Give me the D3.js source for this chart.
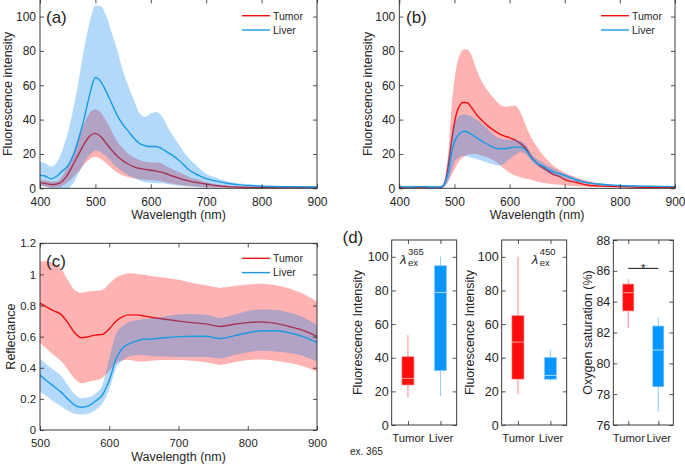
<!DOCTYPE html>
<html><head><meta charset="utf-8">
<script src="https://cdn.jsdelivr.net/npm/d3@7/dist/d3.min.js"></script>
<style>
body{margin:0;background:#fff}
svg{display:block}
text{font-family:Arial,"Liberation Sans",Helvetica,sans-serif;fill:#262626}
</style>
</head><body>
<svg id="chart" width="685" height="467"></svg>
<script>
// ---------------- DATA ----------------
// Panel (a): excitation 365 nm
const wlA = [400,410,420,430,440,450,460,470,480,490,500,510,520,530,540,550,560,570,580,590,600,610,620,630,640,650,660,670,680,690,700,720,740,760,780,800,850,900];
const tumorMeanA = [3.3,2.8,2.2,2.5,4,8,14,20,26,30.5,32,30,26,22,18.5,16,14,12.5,11.5,11,10.5,10,9.3,8.2,7,6,5,4.2,3.5,3,2.5,1.5,1,0.7,0.5,0.4,0.3,0.3];
const tumorUpA   = [5,4.5,4,4,7,13,21,30,38,44,46,44,39,33,27,23,20,18,16.5,15.5,15,15,14.5,12.5,11,9.5,8,6.5,5.5,4.5,3.5,2.2,1.5,1,0.8,0.6,0.4,0.4];
const tumorLoA   = [1.5,1,0.5,0.5,1.5,3.5,6.5,10,14,17,18.3,17,14.5,11.5,9,7.5,6.5,5.8,5.3,5,4.8,4.5,4,3.3,2.7,2.2,1.7,1.3,1,0.8,0.6,0.4,0.3,0.2,0.2,0.2,0.2,0.2];
const liverMeanA = [7.5,7,5.5,7,10,13,19,29,41,55,64.5,62,56,49,42,37,33,29,26,24.8,24.3,24.3,23,21,19,16.5,13.5,10.5,8.5,7,5.6,4,2.8,2,1.6,1.2,0.9,0.8];
const liverUpA   = [15.5,14.5,12.6,15,22,32,46,63,82,97,106.5,106,100,90,80,68,59,51,43.5,41.5,43.5,44.5,42,36,30.5,26,21,17,14,11,8.5,6,3.8,2.8,2.2,1.8,1.4,1.3];
const liverLoA   = [1.5,1,0,0,0,0,3,9,15,19.5,22,21,18.5,15,12,9.5,7.5,6,4.5,3.5,3.3,3,3,2.5,2,1.5,1.2,1,0.8,0.6,0.5,0.4,0.3,0.3,0.3,0.3,0.3,0.3];

// Panel (b): excitation 450 nm
const wlB = [400,420,440,460,470,475,480,485,490,495,500,505,510,515,520,525,530,540,550,560,570,580,590,600,610,620,630,640,650,660,670,680,690,700,720,740,760,780,800,850,900];
const tumorMeanB = [0.3,0.3,0.3,0.3,0.4,0.5,1.5,6,16,28,38,45,48.5,50,50,49.5,47.5,43,39.5,36.5,34,32,30.5,29.5,28,26,23,18,14.5,12,10,8,7,5,3.5,1.9,1.4,1.2,1,0.5,0.3];
const tumorUpB   = [0.5,0.5,0.5,0.5,0.6,0.8,2.5,10,25,48,63,73,78,80.5,81,80.5,78,69,62,57,53,49.5,47.5,47.8,48,44,36,29,24,19.5,16,13,11,9,6.5,4.5,3,2.2,1.6,0.8,0.5];
const tumorLoB   = [0.1,0.1,0.1,0.1,0.1,0.1,0.5,2,5,8,11,14,16.5,18,19,19.5,20,20,19,18,16.5,14.5,11.5,9,7.5,6.5,5.5,4.8,4,3.3,2.8,2.3,2,1.7,1.2,0.9,0.7,0.6,0.5,0.3,0.2];
const liverMeanB = [1,0.8,1,0.8,0.8,0.9,1.5,5,11,21,27,30,32,33,33.2,32.5,31.5,29.5,27.5,25.5,24,23,23,23.5,24,24,22,17.5,14.5,13,11,9.5,8.5,7.5,5,3.3,2.5,2,1.6,1.2,1];
const liverUpB   = [1.5,1.5,1.5,1.5,1.5,1.5,3,9,20,30,37,41,42.5,43,43,42.5,42,40,37.5,34.5,31.5,29.5,28.5,28.3,28,27.5,25,20,17,15,13,11.5,10,8.5,6,4,3,2.5,2,1.5,1.3];
const liverLoB   = [0.3,0.3,0.3,0.3,0.3,0.3,0.5,2,5,10,15,17,18.3,18.8,18.8,18.4,18,17,16,15,14,13.3,14.5,17,19.5,21,19.5,16,13,11,9,7.5,6.5,5.5,4,2.7,1.8,1.3,1,0.8,0.7];

// Panel (c): reflectance
const wlC = [500,510,520,530,540,550,560,570,580,590,600,610,620,630,640,650,660,680,700,720,740,760,780,800,820,840,860,880,900];
const tumorMeanC = [0.815,0.79,0.765,0.745,0.69,0.625,0.593,0.6,0.61,0.615,0.65,0.7,0.73,0.74,0.74,0.733,0.725,0.712,0.70,0.69,0.682,0.665,0.68,0.69,0.695,0.685,0.665,0.64,0.60];
const tumorUpC   = [1.085,1.083,1.07,1.04,0.965,0.9,0.882,0.89,0.895,0.9,0.94,0.98,1.0,1.007,1.003,0.998,0.99,0.978,0.965,0.945,0.93,0.915,0.925,0.935,0.94,0.93,0.91,0.875,0.825];
const tumorLoC   = [0.557,0.52,0.48,0.445,0.39,0.33,0.30,0.31,0.32,0.335,0.38,0.43,0.448,0.45,0.442,0.44,0.445,0.45,0.45,0.445,0.435,0.418,0.435,0.45,0.453,0.445,0.43,0.41,0.375];
const liverMeanC = [0.353,0.315,0.28,0.245,0.2,0.16,0.146,0.155,0.185,0.225,0.32,0.46,0.53,0.557,0.573,0.583,0.585,0.593,0.60,0.603,0.603,0.588,0.605,0.625,0.638,0.638,0.625,0.6,0.561];
const liverUpC   = [0.46,0.42,0.385,0.35,0.29,0.23,0.204,0.21,0.235,0.29,0.46,0.62,0.67,0.695,0.705,0.712,0.718,0.73,0.742,0.745,0.74,0.72,0.74,0.765,0.775,0.772,0.755,0.725,0.675];
const liverLoC   = [0.246,0.215,0.18,0.155,0.125,0.105,0.10,0.105,0.13,0.17,0.26,0.40,0.45,0.475,0.482,0.48,0.476,0.472,0.47,0.47,0.47,0.46,0.48,0.5,0.51,0.505,0.495,0.475,0.44];

// Tick labels
const xTicksAB = [400,500,600,700,800,900];
const yTicksAB = [0,20,40,60,80,100];
const xTicksC = [500,600,700,800,900];
const yTicksC = [0,0.2,0.4,0.6,0.8,1,1.2];
const yTickLabelsC = ["0","0.2","0.4","0.6","0.8","1","1.2"];
const yTicksFl = [0,20,40,60,80,100];
const yTicksSO2 = [76,78,80,82,84,86,88];

// Panel (d): box plots [Tumor, Liver]
const boxCats = ["Tumor","Liver"];
const fl365Min = [16.4,17.2], fl365Q1 = [23.8,32.3], fl365Med = [27.7,78.8], fl365Q3 = [40.6,94.7], fl365Max = [53.5,100];
const fl450Min = [18.4,26.0], fl450Q1 = [27.3,27.2], fl450Med = [49.3,29.5], fl450Q3 = [65.0,40.2], fl450Max = [100,44.6];
const so2Min = [82.27,76.87], so2Q1 = [83.4,78.48], so2Med = [84.58,80.86], so2Q3 = [85.14,82.42], so2Max = [85.45,82.96];
const so2Sig = 86.16;

// ---------------- STYLE ----------------
const RED = "#ee1111", BLUE = "#1a9ae6";
const RED_FILL = "#ff0000", BLUE_FILL = "rgb(0,130,240)";
const FILL_OP = 0.3;
const AX = "#262626";
const TICK_FS = 12, LABEL_FS = 12.5, LEG_FS = 10.5, PANEL_FS = 17;

const svg = d3.select("#chart");
let clipN = 0;

function frameAndAxes(g, x, y, p, xt, yt, ytFmt, xtFmt) {
  const tl = 4;
  const bottom = g.append("g").attr("transform", `translate(0,${p.bottom})`)
    .call(d3.axisBottom(x).tickValues(xt).tickSizeInner(-tl).tickSizeOuter(0).tickPadding(p.xPad || 7).tickFormat(xtFmt || (d => d)));
  const top = g.append("g").attr("transform", `translate(0,${p.top})`)
    .call(d3.axisTop(x).tickValues(xt).tickSizeInner(-tl).tickSizeOuter(0).tickFormat(""));
  const left = g.append("g").attr("transform", `translate(${p.left},0)`)
    .call(d3.axisLeft(y).tickValues(yt).tickSizeInner(-tl).tickSizeOuter(0).tickPadding(p.yPad || 4).tickFormat(ytFmt || (d => d)));
  const right = g.append("g").attr("transform", `translate(${p.right},0)`)
    .call(d3.axisRight(y).tickValues(yt).tickSizeInner(-tl).tickSizeOuter(0).tickFormat(""));
  [bottom, top, left, right].forEach(a => {
    a.select(".domain").remove();
    a.attr("color", AX).attr("font-size", p.tickFs || TICK_FS).attr("font-family", 'Arial,"Liberation Sans",sans-serif');
    a.selectAll("line").attr("stroke-width", 0.8);
  });
  if (p.catFs) bottom.attr("font-size", p.catFs);
  g.append("rect").attr("x", p.left).attr("y", p.top)
    .attr("width", p.right - p.left).attr("height", p.bottom - p.top)
    .attr("fill", "none").attr("stroke", AX).attr("stroke-width", 0.9);
}

function linePanel(p) {
  const g = svg.append("g");
  const x = d3.scaleLinear().domain(p.xDomain).range([p.left, p.right]);
  const y = d3.scaleLinear().domain(p.yDomain).range([p.bottom, p.top]);
  const cid = "clip" + (clipN++);
  g.append("clipPath").attr("id", cid).append("rect")
    .attr("x", p.left).attr("y", p.top).attr("width", p.right - p.left).attr("height", p.bottom - p.top);
  const plot = g.append("g").attr("clip-path", `url(#${cid})`);
  const band = (lo, hi) => d3.area().x((d, i) => x(p.wl[i])).y0((d, i) => y(lo[i])).y1((d, i) => y(hi[i])).curve(d3.curveMonotoneX)(p.wl);
  const line = (v) => d3.line().x((d, i) => x(p.wl[i])).y((d, i) => y(v[i])).curve(d3.curveMonotoneX)(p.wl);
  plot.append("path").attr("d", band(p.tLo, p.tUp)).attr("fill", RED_FILL).attr("fill-opacity", FILL_OP);
  plot.append("path").attr("d", line(p.tMean)).attr("fill", "none").attr("stroke", RED).attr("stroke-width", 1.4);
  plot.append("path").attr("d", band(p.lLo, p.lUp)).attr("fill", BLUE_FILL).attr("fill-opacity", FILL_OP);
  plot.append("path").attr("d", line(p.lMean)).attr("fill", "none").attr("stroke", BLUE).attr("stroke-width", 1.4);

  frameAndAxes(g, x, y, p, p.xTicks, p.yTicks, p.yFmt);

  // axis titles
  g.append("text").attr("x", (p.left + p.right) / 2).attr("y", p.bottom + 31)
    .attr("text-anchor", "middle").attr("font-size", LABEL_FS).text("Wavelength (nm)");
  g.append("text").attr("transform", `translate(${p.yTitleX},${(p.top + p.bottom) / 2}) rotate(-90)`)
    .attr("dy", "0.35em").attr("text-anchor", "middle").attr("font-size", LABEL_FS).text(p.yTitle);
  // panel label
  g.append("text").attr("x", p.labX).attr("y", p.labY).attr("font-size", PANEL_FS).text(p.label);
  // legend
  const lg = g.append("g");
  [["Tumor", RED], ["Liver", BLUE]].forEach((e, i) => {
    const yy = p.legY + i * 14.3;
    lg.append("line").attr("x1", p.legX).attr("x2", p.legX + 28).attr("y1", yy).attr("y2", yy)
      .attr("stroke", e[1]).attr("stroke-width", 1.4);
    lg.append("text").attr("x", p.legX + 31).attr("y", yy + 3.8).attr("font-size", LEG_FS).text(e[0]);
  });
}

linePanel({left: 40, right: 317, top: -0.6, bottom: 188.3, xDomain: [400, 900], yDomain: [0, 110],
  wl: wlA, tMean: tumorMeanA, tUp: tumorUpA, tLo: tumorLoA, lMean: liverMeanA, lUp: liverUpA, lLo: liverLoA,
  xTicks: xTicksAB, yTicks: yTicksAB, xPad: 9, yPad: 4, yTitle: "Fluorescence intensity", yTitleX: 7.5,
  label: "(a)", labX: 46, labY: 23, legX: 242, legY: 15.7});

linePanel({left: 399.3, right: 675, top: -0.6, bottom: 188.3, xDomain: [400, 900], yDomain: [0, 110],
  wl: wlB, tMean: tumorMeanB, tUp: tumorUpB, tLo: tumorLoB, lMean: liverMeanB, lUp: liverUpB, lLo: liverLoB,
  xTicks: xTicksAB, yTicks: yTicksAB, xPad: 9, yPad: 4, yTitle: "Fluorescence intensity", yTitleX: 367.5,
  label: "(b)", labX: 406, labY: 23, legX: 601, legY: 15.7});

linePanel({left: 40, right: 317, top: 243.3, bottom: 430, xDomain: [500, 900], yDomain: [0, 1.2],
  wl: wlC, tMean: tumorMeanC, tUp: tumorUpC, tLo: tumorLoC, lMean: liverMeanC, lUp: liverUpC, lLo: liverLoC,
  xTicks: xTicksC, yTicks: yTicksC, yFmt: (d, i) => yTickLabelsC[i], xPad: 9, yPad: 4,
  yTitle: "Reflectance", yTitleX: 10.5, tickFs: 11.3,
  label: "(c)", labX: 46, labY: 267, legX: 242, legY: 258.3});

// ---------------- BOX PANELS ----------------
const TUMOR_BOX = "#ff0d0d", LIVER_BOX = "#0a96ff";
const TUMOR_WH = "#ff8c8c", LIVER_WH = "#8cccff";
const TUMOR_MED = "#ff9c9c", LIVER_MED = "#a6dcff";

function boxPanel(p) {
  const g = svg.append("g");
  const x = d3.scaleLinear().domain([0.5, 2.5]).range([p.left, p.right]);
  const y = d3.scaleLinear().domain(p.yDomain).range([p.bottom, p.top]);
  const bw = 0.37;
  const cols = [[TUMOR_BOX, TUMOR_WH, TUMOR_MED], [LIVER_BOX, LIVER_WH, LIVER_MED]];
  boxCats.forEach((c, i) => {
    const cx = x(i + 1);
    g.append("line").attr("x1", cx).attr("x2", cx).attr("y1", y(p.min[i])).attr("y2", y(p.max[i]))
      .attr("stroke", cols[i][1]).attr("stroke-width", 1);
    g.append("rect").attr("x", x(i + 1 - bw / 2)).attr("width", x(i + 1 + bw / 2) - x(i + 1 - bw / 2))
      .attr("y", y(p.q3[i])).attr("height", y(p.q1[i]) - y(p.q3[i]))
      .attr("fill", cols[i][0]).attr("stroke", cols[i][1]).attr("stroke-width", 0.6);
    g.append("line").attr("x1", x(i + 1 - bw / 2)).attr("x2", x(i + 1 + bw / 2))
      .attr("y1", y(p.med[i])).attr("y2", y(p.med[i])).attr("stroke", cols[i][2]).attr("stroke-width", 1);
  });
  frameAndAxes(g, x, y, Object.assign({xPad: 8.5, yPad: 3, tickFs: 12.5, catFs: 11.3}, p), [1, 2], p.yTicks, null, (d, i) => boxCats[i]);
  g.append("text").attr("transform", `translate(${p.yTitleX},${(p.top + p.bottom) / 2}) rotate(-90)`)
    .attr("dy", "0.35em").attr("text-anchor", "middle").attr("font-size", LABEL_FS).text(p.yTitle);
  if (p.ex) {
    const lx = p.left + p.exDx, ly = y(p.exY);
    g.append("text").attr("x", lx).attr("y", ly).attr("font-size", 13).attr("font-style", "italic").text("λ");
    g.append("text").attr("x", lx + 8).attr("y", ly - 9).attr("font-size", 9.5).text(p.ex);
    g.append("text").attr("x", lx + 8).attr("y", ly + 2).attr("font-size", 9.5).text("ex");
  }
  return {g, x, y};
}

boxPanel({left: 391.7, right: 456.7, top: 240, bottom: 425, yDomain: [0, 110], yTicks: yTicksFl,
  min: fl365Min, q1: fl365Q1, med: fl365Med, q3: fl365Q3, max: fl365Max,
  yTitle: "Fluorescence Intensity", yTitleX: 358, ex: "365", exDx: 8.3, exY: 95.5});

boxPanel({left: 501.7, right: 566.7, top: 240, bottom: 425, yDomain: [0, 110], yTicks: yTicksFl,
  min: fl450Min, q1: fl450Q1, med: fl450Med, q3: fl450Q3, max: fl450Max,
  yTitle: "Fluorescence Intensity", yTitleX: 470, ex: "450", exDx: 30, exY: 95.5});

const so2 = boxPanel({left: 613.3, right: 673.3, top: 240, bottom: 425, yDomain: [76, 88], yTicks: yTicksSO2,
  min: so2Min, q1: so2Q1, med: so2Med, q3: so2Q3, max: so2Max,
  yTitle: "Oxygen saturation (%)", yTitleX: 588});
so2.g.append("line").attr("x1", so2.x(1)).attr("x2", so2.x(2)).attr("y1", so2.y(so2Sig)).attr("y2", so2.y(so2Sig))
  .attr("stroke", "#111").attr("stroke-width", 1);
so2.g.append("text").attr("x", (so2.x(1) + so2.x(2)) / 2).attr("y", so2.y(so2Sig) + 3.5)
  .attr("text-anchor", "middle").attr("font-size", 11.5).text("*");

svg.append("text").attr("x", 342.5).attr("y", 243).attr("font-size", PANEL_FS).text("(d)");
svg.append("text").attr("x", 350).attr("y", 455).attr("font-size", 10).text("ex. 365");
</script>
</body></html>
